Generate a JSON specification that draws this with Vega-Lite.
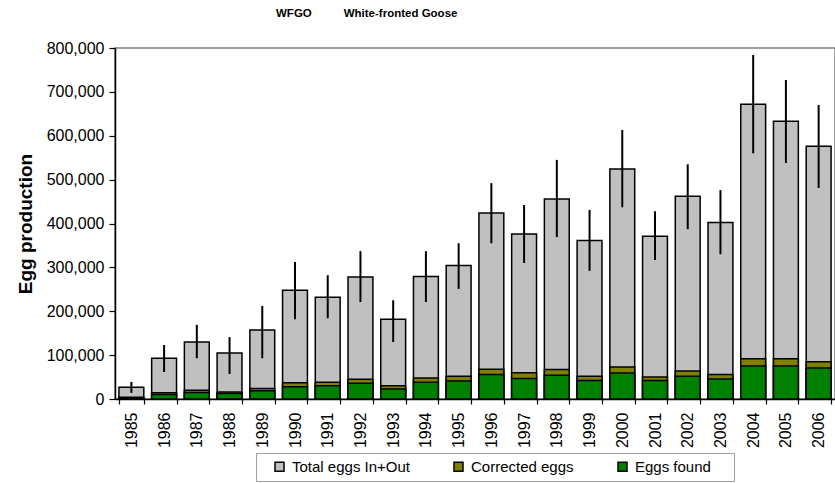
{
  "$schema": "https://vega.github.io/schema/vega-lite/v6.json",
  "width": 720,
  "height": 351,
  "autosize": {"type": "none"},
  "padding": {"left": 115, "top": 48, "right": 0, "bottom": 84},
  "background": "white",
  "title": {
    "text": "WFGO\u00a0\u00a0\u00a0\u00a0\u00a0\u00a0\u00a0\u00a0\u00a0\u00a0White-fronted Goose",
    "anchor": "start",
    "frame": "group",
    "dx": 161,
    "offset": 21,
    "font": "Liberation Sans",
    "fontSize": 11.5,
    "fontWeight": "bold",
    "color": "black"
  },
  "data": {
    "values": [
      {"year": "1985", "Total eggs In+Out": 27000, "Corrected eggs": 4000, "Eggs found": 2000, "lo": 14000, "hi": 39000},
      {"year": "1986", "Total eggs In+Out": 93000, "Corrected eggs": 14000, "Eggs found": 10500, "lo": 61500, "hi": 123000},
      {"year": "1987", "Total eggs In+Out": 130000, "Corrected eggs": 20000, "Eggs found": 15000, "lo": 93000, "hi": 169000},
      {"year": "1988", "Total eggs In+Out": 105000, "Corrected eggs": 16000, "Eggs found": 12500, "lo": 57000, "hi": 141000},
      {"year": "1989", "Total eggs In+Out": 157000, "Corrected eggs": 24000, "Eggs found": 19000, "lo": 93000, "hi": 212000},
      {"year": "1990", "Total eggs In+Out": 248000, "Corrected eggs": 37000, "Eggs found": 28000, "lo": 182000, "hi": 312000},
      {"year": "1991", "Total eggs In+Out": 232000, "Corrected eggs": 38000, "Eggs found": 30000, "lo": 184000, "hi": 282000},
      {"year": "1992", "Total eggs In+Out": 278000, "Corrected eggs": 45000, "Eggs found": 36000, "lo": 221000, "hi": 337000},
      {"year": "1993", "Total eggs In+Out": 182000, "Corrected eggs": 30000, "Eggs found": 23000, "lo": 130000, "hi": 225000},
      {"year": "1994", "Total eggs In+Out": 279000, "Corrected eggs": 48000, "Eggs found": 38000, "lo": 221000, "hi": 337000},
      {"year": "1995", "Total eggs In+Out": 304000, "Corrected eggs": 52000, "Eggs found": 41000, "lo": 251000, "hi": 355000},
      {"year": "1996", "Total eggs In+Out": 424000, "Corrected eggs": 68000, "Eggs found": 56000, "lo": 355000, "hi": 492000},
      {"year": "1997", "Total eggs In+Out": 376000, "Corrected eggs": 60000, "Eggs found": 47000, "lo": 310000, "hi": 442000},
      {"year": "1998", "Total eggs In+Out": 456000, "Corrected eggs": 67000, "Eggs found": 54000, "lo": 369000, "hi": 545000},
      {"year": "1999", "Total eggs In+Out": 361000, "Corrected eggs": 52000, "Eggs found": 42000, "lo": 292000, "hi": 431000},
      {"year": "2000", "Total eggs In+Out": 524000, "Corrected eggs": 73000, "Eggs found": 59000, "lo": 437000, "hi": 613000},
      {"year": "2001", "Total eggs In+Out": 371000, "Corrected eggs": 50000, "Eggs found": 42000, "lo": 317000, "hi": 428000},
      {"year": "2002", "Total eggs In+Out": 462000, "Corrected eggs": 64000, "Eggs found": 52000, "lo": 387000, "hi": 535000},
      {"year": "2003", "Total eggs In+Out": 402000, "Corrected eggs": 56000, "Eggs found": 45500, "lo": 330000, "hi": 476000},
      {"year": "2004", "Total eggs In+Out": 672000, "Corrected eggs": 92000, "Eggs found": 75000, "lo": 560000, "hi": 784000},
      {"year": "2005", "Total eggs In+Out": 633000, "Corrected eggs": 92000, "Eggs found": 75000, "lo": 538000, "hi": 727000},
      {"year": "2006", "Total eggs In+Out": 576000, "Corrected eggs": 85000, "Eggs found": 70500, "lo": 481000, "hi": 670000}
    ]
  },
  "config": {
    "font": "Liberation Sans",
    "view": {"stroke": "#808080", "strokeWidth": 1.5},
    "axis": {
      "domainColor": "black",
      "domainWidth": 1.5,
      "tickColor": "black",
      "tickWidth": 1.2,
      "labelColor": "black",
      "labelFont": "Liberation Sans",
      "titleFont": "Liberation Sans",
      "titleColor": "black",
      "grid": false
    }
  },
  "layer": [
    {
      "transform": [
        {"fold": ["Total eggs In+Out", "Corrected eggs", "Eggs found"], "as": ["series", "value"]}
      ],
      "mark": {"type": "bar", "stroke": "black", "strokeWidth": 1.5},
      "encoding": {
        "x": {
          "field": "year",
          "type": "ordinal",
          "scale": {"paddingInner": 0.24, "paddingOuter": 0.12},
          "axis": {
            "title": null,
            "labelAngle": -90,
            "labelFontSize": 16,
            "labelPadding": 8,
            "tickBand": "extent",
            "tickSize": 5
          }
        },
        "y": {
          "field": "value",
          "type": "quantitative",
          "stack": null,
          "scale": {"domain": [0, 800000], "nice": false},
          "axis": {
            "title": "Egg production",
            "titleFontSize": 19,
            "titleFontWeight": "bold",
            "titlePadding": 11,
            "format": ",d",
            "values": [0, 100000, 200000, 300000, 400000, 500000, 600000, 700000, 800000],
            "labelFontSize": 16,
            "labelPadding": 5,
            "tickSize": 6
          }
        },
        "color": {
          "field": "series",
          "type": "nominal",
          "scale": {
            "domain": ["Total eggs In+Out", "Corrected eggs", "Eggs found"],
            "range": ["#C0C0C0", "#808000", "#008000"]
          },
          "legend": {
            "title": "\u00a0",
            "titleOrient": "left",
            "titlePadding": 10,
            "titleFontSize": 6,
            "orient": "none",
            "direction": "horizontal",
            "legendX": 141,
            "legendY": 405,
            "symbolType": "square",
            "symbolSize": 81,
            "symbolStrokeColor": "black",
            "symbolStrokeWidth": 1.5,
            "labelFontSize": 15,
            "labelOffset": 5,
            "labelColor": "black",
            "labelFont": "Liberation Sans",
            "labelExpr": "datum.label == 'Eggs found' ? datum.label + '\u00a0\u00a0\u00a0\u00a0\u200b' : datum.label",
            "columnPadding": 41,
            "strokeColor": "#a0a0a0",
            "padding": 6
          }
        }
      }
    },
    {
      "mark": {"type": "rule", "color": "black", "strokeWidth": 2},
      "encoding": {
        "x": {"field": "year", "type": "ordinal"},
        "y": {"field": "lo", "type": "quantitative"},
        "y2": {"field": "hi"}
      }
    }
  ]
}
